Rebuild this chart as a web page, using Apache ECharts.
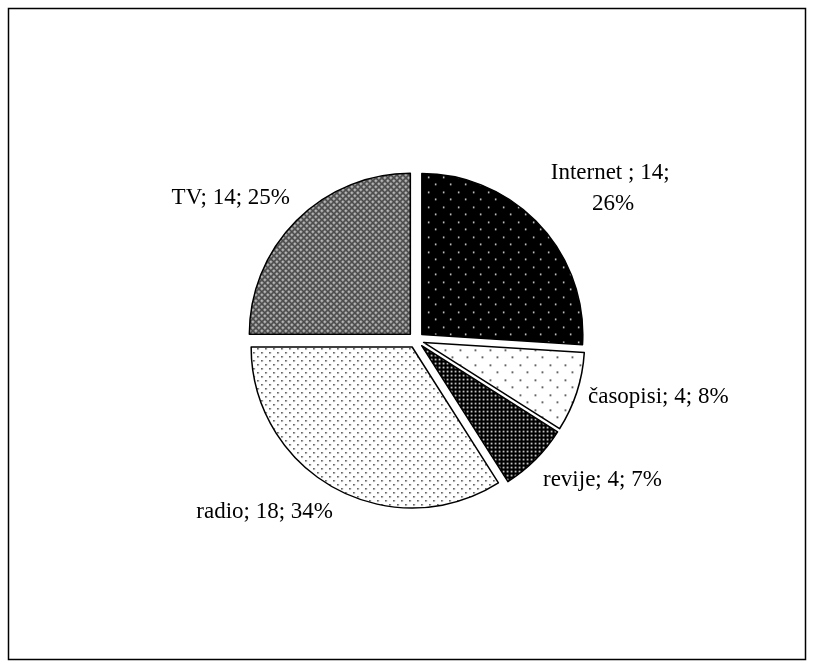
<!DOCTYPE html>
<html><head><meta charset="utf-8">
<script src="https://cdn.jsdelivr.net/npm/echarts@6/dist/echarts.min.js"></script>
<style>html,body{margin:0;padding:0;background:#fff}#c{width:814px;height:668px}</style>
</head><body><div id="c"></div>
<script>
const categories = ['Internet ', 'časopisi', 'revije', 'radio', 'TV'];
const counts = [14, 4, 4, 18, 14];
const percents = [26, 8, 7, 34, 25];

function pattern(bg, fg, w, h, dots, sz) {
  const c = document.createElement('canvas');
  c.width = w; c.height = h;
  const g = c.getContext('2d');
  g.fillStyle = bg; g.fillRect(0, 0, w, h);
  g.fillStyle = fg;
  dots.forEach(d => g.fillRect(d[0], d[1], sz, sz));
  return { image: c, repeat: 'repeat' };
}
function tvPattern() {
  const n = 6;
  const c = document.createElement('canvas');
  c.width = n; c.height = n;
  const g = c.getContext('2d');
  g.fillStyle = '#8c8c8c'; g.fillRect(0, 0, n, n);
  g.fillStyle = '#111';
  for (let x = 0; x < n; x++) for (let y = 0; y < n; y++) {
    if ((x + y) % n === 0 || ((x - y) % n + n) % n === 0) g.fillRect(x, y, 1, 1);
  }
  g.fillStyle = '#fff'; g.fillRect(3, 0, 1, 1); g.fillRect(0, 3, 1, 1);
  return { image: c, repeat: 'repeat' };
}
const fills = [
  pattern('#000', '#fff', 15, 15, [[2, 2], [9, 9]], 1.5),
  pattern('#fff', '#000', 15, 15, [[2, 2], [9, 9]], 1.5),
  pattern('#000', '#fff', 4, 4, [[1, 1]], 1.6),
  pattern('#fff', '#333', 8, 8, [[1, 1], [5, 5]], 1.5),
  tvPattern()
];

// label anchor placement (layout only): [x, y, align]
const labelPlacement = [
  [613, 188, 'center'],
  [588, 397, 'left'],
  [543, 480, 'left'],
  [333, 512, 'right'],
  [290, 198, 'right']
];

const labelText = i => categories[i] + '; ' + counts[i] + '; ' + percents[i] + '%';

const data = categories.map((n, i) => ({
  name: n, value: percents[i], selected: true,
  itemStyle: { color: fills[i] }
}));

const labelGraphics = categories.map((n, i) => ({
  type: 'text',
  x: labelPlacement[i][0], y: labelPlacement[i][1],
  style: {
    text: labelText(i),
    fontFamily: 'Liberation Serif', fontSize: 23, fill: '#000',
    lineHeight: 31,
    width: i === 0 ? 130 : undefined,
    overflow: i === 0 ? 'break' : undefined,
    align: labelPlacement[i][2], verticalAlign: 'middle'
  }
}));

const chart = echarts.init(document.getElementById('c'), null, { renderer: 'canvas' });
chart.setOption({
  animation: false,
  graphic: [{ type: 'rect', shape: { x: 8.5, y: 8.5, width: 797, height: 651 }, style: { fill: 'none', stroke: '#000', lineWidth: 1.5 } }].concat(labelGraphics),
  series: [{
    type: 'pie',
    center: [416, 340],
    radius: 161,
    startAngle: 90,
    selectedMode: 'multiple',
    selectedOffset: 8,
    data: data,
    itemStyle: { borderColor: '#000', borderWidth: 1.5 },
    emphasis: { disabled: true },
    label: { show: false },
    labelLine: { show: false }
  }]
});
</script></body></html>
